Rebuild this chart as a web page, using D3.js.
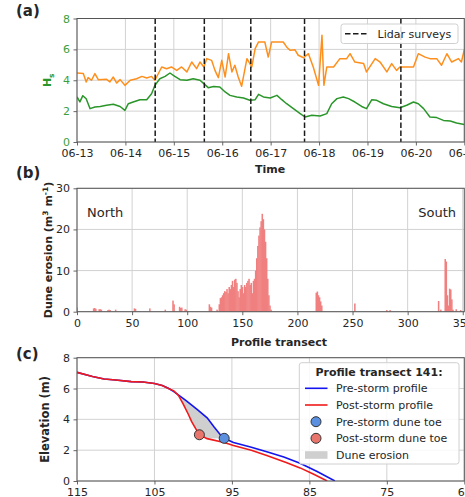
<!DOCTYPE html>
<html><head><meta charset="utf-8">
<script src="https://cdn.jsdelivr.net/npm/d3@7"></script>
<style>body{margin:0;background:#fff}svg{display:block;font-family:"DejaVu Sans",sans-serif}</style>
</head><body><svg id="c" width="465" height="497"></svg>
<script>
// ---------- DATA ----------
// Panel (a): time in fractional days since 06-13 00:00
const greenDays = [0,0.06,0.12,0.19,0.27,0.37,0.48,0.61,0.75,0.89,0.99,1.06,1.16,1.30,1.44,1.54,1.61,1.71,1.82,1.92,2.02,2.13,2.27,2.40,2.54,2.62,2.71,2.82,2.95,3.06,3.16,3.30,3.44,3.57,3.68,3.75,3.85,3.99,4.13,4.23,4.33,4.47,4.61,4.71,4.85,5.02,5.16,5.26,5.37,5.50,5.61,5.74,5.88,5.98,6.09,6.19,6.33,6.50,6.67,6.81,6.95,7.05,7.16,7.29,7.43,7.57,7.71,7.84,8.0];
const greenHs = [2.92,2.6,3.0,2.8,2.16,2.27,2.3,2.38,2.44,2.3,2.05,2.48,2.59,2.74,2.74,3.13,3.67,4.1,4.25,4.47,4.25,4.04,4.0,4.1,4.0,3.78,3.52,3.6,3.56,3.24,3.02,2.92,2.85,2.7,2.74,3.09,2.92,2.85,3.02,2.74,2.48,2.16,1.84,1.62,1.73,1.68,1.84,2.48,2.81,2.92,2.81,2.59,2.3,2.16,2.74,2.7,2.48,2.3,2.22,2.38,2.59,2.48,2.16,1.62,1.58,1.40,1.36,1.23,1.14];
const orangeDays = [0,0.13,0.19,0.23,0.30,0.37,0.44,0.61,0.68,0.75,0.82,0.89,0.99,1.10,1.23,1.34,1.44,1.54,1.61,1.75,1.85,1.95,2.06,2.16,2.27,2.37,2.47,2.54,2.62,2.68,2.78,2.85,2.92,2.99,3.06,3.13,3.20,3.26,3.33,3.40,3.51,3.61,3.68,3.75,3.88,3.95,4.02,4.26,4.33,4.40,4.50,4.57,4.68,4.78,4.88,4.99,5.06,5.10,5.16,5.30,5.43,5.57,5.64,5.74,5.92,5.98,6.16,6.26,6.40,6.50,6.60,6.67,6.95,7.05,7.19,7.29,7.43,7.53,7.64,7.74,7.88,7.94,8.0];
const orangeVals = [4.47,4.43,3.89,4.17,4.0,4.43,4.04,4.06,3.89,4.21,3.82,4.04,3.67,4.0,4.1,4.25,4.15,4.25,4.0,4.86,4.75,4.86,4.64,4.86,4.54,5.18,4.75,5.18,4.86,5.4,5.29,4.64,4.17,5.29,4.21,5.72,4.54,4.97,4.21,3.61,5.4,4.86,6.05,6.48,6.48,5.5,6.48,6.48,6.16,5.94,5.98,5.62,5.46,5.72,4.86,3.67,6.91,3.67,4.86,4.86,5.4,5.4,5.72,5.18,5.08,4.54,5.4,5.18,4.54,5.08,4.64,4.86,4.86,5.72,5.5,5.4,5.4,4.97,5.72,5.18,5.4,5.18,5.98];
const lidarDays = [1.615,2.63,3.59,4.70,6.69];
const timeTickDays = [0,1,2,3,4,5,6,7,8];
const hsTicks = [0,2,4,6,8];

// Panel (b): dune erosion per profile transect (non-zero transects only)
const transects = [0,15,16,17,20,21,22,28,29,30,35,52,53,66,80,87,88,93,94,95,98,99,120,121,122,127,129,130,131,132,133,134,135,136,137,138,139,140,141,142,143,144,145,146,147,148,149,150,151,152,153,154,155,156,157,158,159,160,161,162,163,164,165,166,167,168,169,170,171,172,173,174,175,176,217,218,219,220,221,222,252,281,284,328,330,334,335,336,337,338,339,340,341,344,348];
const erosion = [1.0,0.8,0.9,0.7,0.6,0.6,0.5,0.4,0.5,0.4,0.5,0.8,0.7,0.8,0.5,2.7,1.8,1.2,0.9,1.0,0.6,0.5,1.8,1.2,1.0,0.5,1.8,3.3,3.5,4.0,4.5,5.0,4.8,5.5,4.5,6.0,5.5,6.5,7.5,6.0,7.8,8.0,7.0,5.0,3.5,5.5,6.5,6.0,4.5,6.5,6.0,7.0,7.5,8.0,6.5,7.0,4.5,7.5,8.0,10.0,13.0,16.0,18.5,20.5,22.0,23.8,22.5,20.0,17.0,13.0,8.0,4.0,1.5,0.5,4.6,4.9,4.0,3.5,2.5,1.5,2.0,0.4,0.4,2.6,0.5,12.8,12.2,4.0,1.5,5.6,5.4,3.0,0.5,0.6,0.4];
const transectTicks = [0,50,100,150,200,250,300,350];
const erosionTicks = [0,10,20,30];

// Panel (c): profile transect 141 (cross-shore distance, elevation)
const preDist  = [115,113,111.5,110,108,106.5,105,104,103.2,102.5,101,99.5,98.2,97.3,96.5,96.0,94.8,92.6,90.5,88.3,86.2,84.0,81.7];
const preElev  = [7.05,6.78,6.62,6.55,6.45,6.42,6.33,6.2,6.02,5.8,5.25,4.65,4.1,3.5,3.0,2.77,2.5,2.2,1.9,1.55,1.15,0.62,0.0];
const postDist = [115,113,111.5,110,108,106.5,105,104,103.2,102.5,101.9,101.3,100.6,100.2,99.7,99.2,98.2,96.0,94.8,92.5,90.5,88.0,86.2,84.5,82.7];
const postElev = [7.05,6.78,6.62,6.55,6.45,6.42,6.33,6.2,6.0,5.85,5.55,5.0,4.3,3.85,3.42,3.0,2.75,2.5,2.3,2.0,1.65,1.2,0.85,0.45,0.0];
const preToe = [96.0, 2.77];
const postToe = [99.2, 3.0];
const distTicks = [115,105,95,85,75,65];
const elevTicks = [0,2,4,6,8];

// ---------- DRAWING ----------
const svg = d3.select("#c");
const L = 77, R = 464.3;
const GRID = "#d2d2d2", SPINE = "#555", TXT = "#262626";
const t0 = Date.UTC(2020,5,13);
const day = 86400000;

function frame(g, top, bottom){
  g.append("rect").attr("x",L).attr("y",top).attr("width",R-L).attr("height",bottom-top)
   .attr("fill","none").attr("stroke",SPINE).attr("stroke-width",1);
}
function clip(id, top, bottom){
  svg.append("clipPath").attr("id",id).append("rect").attr("x",L).attr("y",top).attr("width",R-L).attr("height",bottom-top);
}
function styleAxis(g, color){
  g.select(".domain").remove();
  g.selectAll(".tick line").attr("stroke",SPINE).attr("stroke-width",0.9);
  g.selectAll(".tick text").attr("fill",color||TXT).attr("font-size","11px").attr("font-family","DejaVu Sans");
}

// ===== Panel (a) =====
{
  const top=18.5, bottom=142;
  const x = d3.scaleUtc().domain([t0, t0+8*day]).range([L,R]);
  const y = d3.scaleLinear().domain([0,8]).range([bottom,top]);
  const g = svg.append("g");
  clip("ca",top,bottom);
  g.selectAll(".gx").data(timeTickDays).join("line").attr("x1",d=>x(t0+d*day)).attr("x2",d=>x(t0+d*day))
    .attr("y1",top).attr("y2",bottom).attr("stroke",GRID);
  g.selectAll(".gy").data(hsTicks).join("line").attr("x1",L).attr("x2",R).attr("y1",d=>y(d)).attr("y2",d=>y(d)).attr("stroke",GRID);
  const pl = g.append("g").attr("clip-path","url(#ca)");
  const line = d3.line().x(d=>x(t0+d[0]*day)).y(d=>y(d[1]));
  pl.append("path").attr("d",line(orangeDays.map((d,i)=>[d,orangeVals[i]])))
    .attr("fill","none").attr("stroke","#ff8f1c").attr("stroke-width",1.5).attr("stroke-linejoin","round");
  pl.append("path").attr("d",line(greenDays.map((d,i)=>[d,greenHs[i]])))
    .attr("fill","none").attr("stroke","#2a962a").attr("stroke-width",1.5).attr("stroke-linejoin","round");
  pl.selectAll(".lid").data(lidarDays).join("line").attr("x1",d=>x(t0+d*day)).attr("x2",d=>x(t0+d*day))
    .attr("y1",top).attr("y2",bottom).attr("stroke","#1a1a1a").attr("stroke-width",1.5).attr("stroke-dasharray","5.5,2.5");
  frame(g,top,bottom);
  const ax = g.append("g").attr("transform",`translate(0,${bottom})`)
    .call(d3.axisBottom(x).tickValues(timeTickDays.map(d=>new Date(t0+d*day))).tickFormat(d3.utcFormat("%m-%d")).tickSize(3.5).tickPadding(4));
  styleAxis(ax);
  const ay = g.append("g").attr("transform",`translate(${L},0)`)
    .call(d3.axisLeft(y).tickValues(hsTicks).tickSize(3.5).tickPadding(3.5));
  styleAxis(ay,"#3c9f3c");
  const yl = g.append("text").attr("transform",`translate(51,${(top+bottom)/2}) rotate(-90)`).attr("text-anchor","middle")
    .attr("font-size","11px").attr("font-weight","bold").attr("fill","#2a962a");
  yl.append("tspan").text("H");
  yl.append("tspan").attr("font-size","7.5px").attr("dy","2.5").text("s");
  g.append("text").attr("x",270).attr("y",173).attr("text-anchor","middle").attr("font-size","11px").attr("font-weight","bold").attr("fill",TXT).text("Time");
  g.append("text").attr("x",16).attr("y",16).attr("font-size","15px").attr("font-weight","bold").attr("fill",TXT).text("(a)");
  // legend
  const lg = g.append("g");
  lg.append("rect").attr("x",341).attr("y",24).attr("width",117).attr("height",19.5).attr("rx",2.5)
    .attr("fill","white").attr("fill-opacity",0.85).attr("stroke","#d0d0d0");
  lg.append("line").attr("x1",345).attr("x2",368).attr("y1",33.7).attr("y2",33.7).attr("stroke","#1a1a1a").attr("stroke-width",1.5).attr("stroke-dasharray","5.5,2.5");
  lg.append("text").attr("x",377.5).attr("y",33.7).attr("dy","0.35em").attr("font-size","11px").attr("fill",TXT).text("Lidar surveys");
}

// ===== Panel (b) =====
{
  const top=188.3, bottom=311.7;
  const x = d3.scaleLinear().domain([0,351.4]).range([L,R]);
  const y = d3.scaleLinear().domain([0,30]).range([bottom,top]);
  const g = svg.append("g");
  clip("cb",top,bottom);
  g.selectAll(".gx").data(transectTicks).join("line").attr("x1",d=>x(d)).attr("x2",d=>x(d)).attr("y1",top).attr("y2",bottom).attr("stroke",GRID);
  g.selectAll(".gy").data(erosionTicks).join("line").attr("x1",L).attr("x2",R).attr("y1",d=>y(d)).attr("y2",d=>y(d)).attr("stroke",GRID);
  g.append("g").attr("clip-path","url(#cb)").selectAll("rect").data(transects.map((t,i)=>[t,erosion[i]])).join("rect")
    .attr("x",d=>x(d[0]-0.6)).attr("width",x(1.4)-x(0)).attr("y",d=>y(d[1])).attr("height",d=>bottom-y(d[1]))
    .attr("fill","#f08080");
  frame(g,top,bottom);
  const ax = g.append("g").attr("transform",`translate(0,${bottom})`)
    .call(d3.axisBottom(x).tickValues(transectTicks).tickSize(3.5).tickPadding(4));
  styleAxis(ax);
  const ay = g.append("g").attr("transform",`translate(${L},0)`)
    .call(d3.axisLeft(y).tickValues(erosionTicks).tickSize(3.5).tickPadding(3.5));
  styleAxis(ay);
  const yl = g.append("text").attr("transform",`translate(52,${(top+bottom)/2}) rotate(-90)`).attr("text-anchor","middle")
    .attr("font-size","11px").attr("font-weight","bold").attr("fill",TXT);
  yl.append("tspan").text("Dune erosion (m");
  yl.append("tspan").attr("font-size","7.5px").attr("dy","-4").text("3");
  yl.append("tspan").attr("dy","4").text(" m");
  yl.append("tspan").attr("font-size","7.5px").attr("dy","-4").text("-1");
  yl.append("tspan").attr("dy","4").text(")");
  g.append("text").attr("x",279).attr("y",345.5).attr("text-anchor","middle").attr("font-size","11px").attr("font-weight","bold").attr("fill",TXT).text("Profile transect");
  g.append("text").attr("x",16).attr("y",178).attr("font-size","15px").attr("font-weight","bold").attr("fill",TXT).text("(b)");
  g.append("text").attr("x",87).attr("y",216.5).attr("font-size","13px").attr("fill",TXT).text("North");
  g.append("text").attr("x",456).attr("y",216.5).attr("text-anchor","end").attr("font-size","13px").attr("fill",TXT).text("South");
}

// ===== Panel (c) =====
{
  const top=357.7, bottom=481;
  const x = d3.scaleLinear().domain([115,65]).range([L,R]);
  const y = d3.scaleLinear().domain([0,8]).range([bottom,top]);
  const g = svg.append("g");
  clip("cc",top,bottom);
  g.selectAll(".gx").data(distTicks).join("line").attr("x1",d=>x(d)).attr("x2",d=>x(d)).attr("y1",top).attr("y2",bottom).attr("stroke",GRID);
  g.selectAll(".gy").data(elevTicks).join("line").attr("x1",L).attr("x2",R).attr("y1",d=>y(d)).attr("y2",d=>y(d)).attr("stroke",GRID);
  const pl = g.append("g").attr("clip-path","url(#cc)");
  const pre = preDist.map((d,i)=>[d,preElev[i]]);
  const post = postDist.map((d,i)=>[d,postElev[i]]);
  const line = d3.line().x(d=>x(d[0])).y(d=>y(d[1]));
  // erosion polygon: pre-storm from split point to pre toe, back along post-storm
  const poly = pre.filter(p=>p[0]<=103.2 && p[0]>=preToe[0])
    .concat(post.filter(p=>p[0]<=103.2 && p[0]>=98.2).reverse());
  pl.append("path").attr("d",line(poly)+"Z").attr("fill","#cfcfcf").attr("stroke","none");
  pl.append("path").attr("d",line(pre)).attr("fill","none").attr("stroke","#1414f0").attr("stroke-width",1.6);
  pl.append("path").attr("d",line(post)).attr("fill","none").attr("stroke","#f01a1a").attr("stroke-width",1.6);
  pl.append("circle").attr("cx",x(preToe[0])).attr("cy",y(preToe[1])).attr("r",5).attr("fill","#5b8fe0").attr("stroke","#333").attr("stroke-width",1);
  pl.append("circle").attr("cx",x(postToe[0])).attr("cy",y(postToe[1])).attr("r",5).attr("fill","#e8766c").attr("stroke","#333").attr("stroke-width",1);
  frame(g,top,bottom);
  const ax = g.append("g").attr("transform",`translate(0,${bottom})`)
    .call(d3.axisBottom(x).tickValues(distTicks).tickSize(3.5).tickPadding(4));
  styleAxis(ax);
  const ay = g.append("g").attr("transform",`translate(${L},0)`)
    .call(d3.axisLeft(y).tickValues(elevTicks).tickSize(3.5).tickPadding(3.5));
  styleAxis(ay);
  g.append("text").attr("transform",`translate(49,${(top+bottom)/2}) rotate(-90)`).attr("text-anchor","middle")
    .attr("font-size","11.5px").attr("font-weight","bold").attr("fill",TXT).text("Elevation (m)");
  g.append("text").attr("x",16).attr("y",359).attr("font-size","15px").attr("font-weight","bold").attr("fill",TXT).text("(c)");
  // legend
  const lg = g.append("g");
  lg.append("rect").attr("x",299.3).attr("y",362.7).attr("width",159.7).attr("height",101.3).attr("rx",2.5)
    .attr("fill","white").attr("fill-opacity",0.85).attr("stroke","#d0d0d0");
  lg.append("text").attr("x",379).attr("y",372.5).attr("dy","0.35em").attr("text-anchor","middle").attr("font-size","11px").attr("font-weight","bold").attr("fill",TXT).text("Profile transect 141:");
  const rows = [388.3,405,421.7,438.3,455];
  const labels = ["Pre-storm profile","Post-storm profile","Pre-storm dune toe","Post-storm dune toe","Dune erosion"];
  labels.forEach((t,i)=>lg.append("text").attr("x",336).attr("y",rows[i]).attr("dy","0.35em").attr("font-size","11px").attr("fill",TXT).text(t));
  lg.append("line").attr("x1",305).attr("x2",327.5).attr("y1",rows[0]).attr("y2",rows[0]).attr("stroke","#1414f0").attr("stroke-width",1.6);
  lg.append("line").attr("x1",305).attr("x2",327.5).attr("y1",rows[1]).attr("y2",rows[1]).attr("stroke","#f01a1a").attr("stroke-width",1.6);
  lg.append("circle").attr("cx",316).attr("cy",rows[2]).attr("r",5).attr("fill","#5b8fe0").attr("stroke","#333");
  lg.append("circle").attr("cx",316).attr("cy",rows[3]).attr("r",5).attr("fill","#e8766c").attr("stroke","#333");
  lg.append("rect").attr("x",305).attr("y",rows[4]-3.8).attr("width",22.5).attr("height",7.6).attr("fill","#cfcfcf");
}
</script></body></html>
